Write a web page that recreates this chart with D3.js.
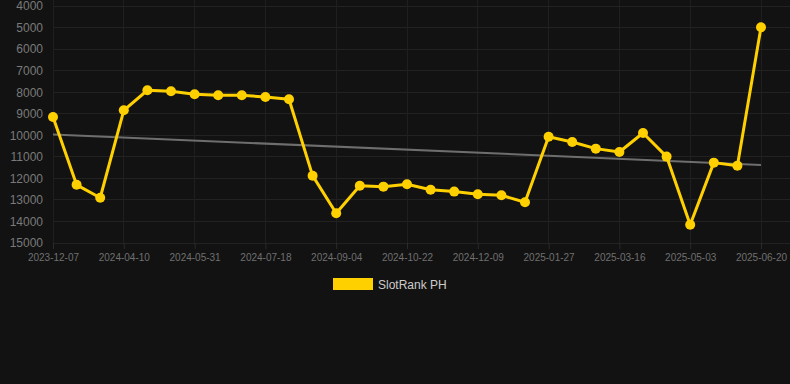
<!DOCTYPE html>
<html><head><meta charset="utf-8">
<script src="https://cdn.jsdelivr.net/npm/d3@7/dist/d3.min.js"></script>
<style>
html,body{margin:0;padding:0;background:#121212;}
svg{display:block;font-family:"Liberation Sans",Arial,sans-serif;}
</style></head>
<body><svg id="c" width="790" height="384"></svg>
<script>
const dates = ["2023-12-07","2024-01-08","2024-02-09","2024-04-10","2024-04-27","2024-05-14",
"2024-05-31","2024-06-16","2024-07-02","2024-07-18","2024-08-03","2024-08-19",
"2024-09-04","2024-09-20","2024-10-06","2024-10-22","2024-11-07","2024-11-23",
"2024-12-09","2024-12-25","2025-01-10","2025-01-27","2025-02-12","2025-02-28",
"2025-03-16","2025-04-01","2025-04-17","2025-05-03","2025-05-19","2025-06-04","2025-06-20"];
const ranks = [9150,12300,12900,8840,7910,7960,8100,8145,8145,8220,8330,11875,13620,12340,12385,
12275,12525,12615,12740,12785,13110,10065,10310,10620,10775,9895,10990,14150,11270,11410,4990];
const yTicks = [4000,5000,6000,7000,8000,9000,10000,11000,12000,13000,14000,15000];
const seriesName = "SlotRank PH";

const svg = d3.select("#c");
const x = d3.scalePoint().domain(dates).range([53, 761]);
const y = d3.scaleLinear().domain([4000, 15000]).range([6, 243]);
const xTickVals = dates.filter((d,i)=> i % 3 === 0);

// grid
svg.append("g").selectAll("line").data(yTicks).join("line")
  .attr("x1", 53).attr("x2", 790).attr("y1", d=>y(d)).attr("y2", d=>y(d))
  .attr("stroke", "#222").attr("stroke-width", 1).attr("shape-rendering","crispEdges");
svg.append("g").selectAll("line").data(xTickVals).join("line")
  .attr("x1", d=>x(d)).attr("x2", d=>x(d)).attr("y1", 0).attr("y2", 243)
  .attr("stroke", "#1f1f1f").attr("stroke-width", 1).attr("shape-rendering","crispEdges");

// y axis
const ya = svg.append("g").attr("transform","translate(53,0)")
  .call(d3.axisLeft(y).tickValues(yTicks).tickSize(0).tickPadding(10).tickFormat(d3.format("d")));
ya.select(".domain").remove();
ya.selectAll("text").attr("fill","#7a7a7a").attr("font-size","12px");

// x axis
const xa = svg.append("g").attr("transform","translate(0,243)")
  .call(d3.axisBottom(x).tickValues(xTickVals).tickSize(6).tickPadding(5));
xa.select(".domain").remove();
xa.selectAll("line").attr("stroke","#2a2a2a");
xa.selectAll("text").attr("fill","#707070").attr("font-size","10px");

// trend line (least squares)
const n = ranks.length;
const mx = d3.mean(ranks, (d,i)=>i), my = d3.mean(ranks);
const slope = d3.sum(ranks, (d,i)=>(i-mx)*(d-my)) / d3.sum(ranks, (d,i)=>(i-mx)*(i-mx));
const icpt = my - slope*mx;
svg.append("line")
  .attr("x1", x(dates[0])).attr("y1", y(icpt))
  .attr("x2", x(dates[n-1])).attr("y2", y(icpt + slope*(n-1)))
  .attr("stroke","#6e6e6e").attr("stroke-width",2);

// series
const line = d3.line().x((d,i)=>x(dates[i])).y(d=>y(d));
svg.append("path").datum(ranks).attr("d", line)
  .attr("fill","none").attr("stroke","#FFD000").attr("stroke-width",3).attr("stroke-linejoin","round");
svg.append("g").selectAll("circle").data(ranks).join("circle")
  .attr("cx",(d,i)=>x(dates[i])).attr("cy",d=>y(d)).attr("r",5).attr("fill","#FFD000");

// legend
const lg = svg.append("g");
lg.append("rect").attr("x",333).attr("y",278).attr("width",40).attr("height",12).attr("fill","#FFD000");
lg.append("text").attr("x",378).attr("y",288.5).attr("fill","#cccccc").attr("font-size","12px").text(seriesName);
</script></body></html>
